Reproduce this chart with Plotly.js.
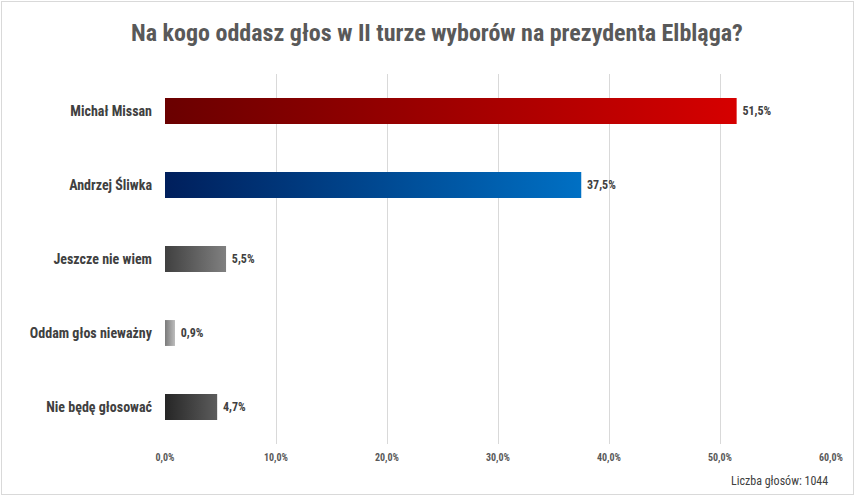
<!DOCTYPE html>
<html>
<head>
<meta charset="utf-8">
<script src="https://cdn.plot.ly/plotly-3.0.1.min.js"></script>
<style>
  html, body { margin: 0; padding: 0; background: #fff; }
  #wrap { position: relative; width: 855px; height: 496px; }
  #chart { width: 855px; height: 496px; }
  #frame { position: absolute; left: 1px; top: 1px; width: 851px; height: 492px; border: 1px solid #d9d9d9; pointer-events: none; }
</style>
</head>
<body>
<div id="wrap"><div id="chart"></div><div id="frame"></div></div>
<script>
const categories = ["Michał Missan", "Andrzej Śliwka", "Jeszcze nie wiem", "Oddam głos nieważny", "Nie będę głosować"];
const values = [51.5, 37.5, 5.5, 0.9, 4.7];
const tickValues = [0, 10, 20, 30, 40, 50, 60];
const gradientStops = [
  ["#6a0000", "#d60000"],
  ["#001f5c", "#0070c4"],
  ["#404040", "#808080"],
  ["#7a7a7a", "#bdbdbd"],
  ["#262626", "#5c5c5c"]
];
const solidColors = ["#a00000", "#004a90", "#606060", "#9a9a9a", "#404040"];
const titleText = "Na kogo oddasz głos w II turze wyborów na prezydenta Elbląga?";
const noteText = "Liczba głosów: 1044";

const FONT = "'Liberation Sans Narrow', 'Roboto Condensed', 'Arial Narrow', 'Noto Sans', sans-serif";

const trace = {
  type: "bar",
  orientation: "h",
  y: categories,
  x: values,
  marker: { color: solidColors, line: { width: 0 } },
  texttemplate: "\u00a0%{x:.1f}%",
  textposition: "outside",
  cliponaxis: false,
  textfont: { family: FONT, size: 12, color: "#404040", weight: "bold" },
  hoverinfo: "none"
};

const layout = {
  width: 855,
  height: 496,
  margin: { l: 165, r: 24, t: 74, b: 52 },
  paper_bgcolor: "#ffffff",
  plot_bgcolor: "#ffffff",
  separators: ", ",
  bargap: 0.65,
  showlegend: false,
  title: {
    text: titleText,
    font: { family: FONT, size: 24, color: "#595959", weight: "bold" },
    x: 0.511, xanchor: "center", y: 0.935, yanchor: "middle"
  },
  xaxis: {
    range: [0, 60],
    tickvals: tickValues,
    ticktext: tickValues.map(v => v.toFixed(1).replace(".", ",") + "%"),
    showgrid: true,
    gridcolor: "#d9d9d9",
    gridwidth: 1,
    zeroline: false,
    showline: false,
    ticks: "",
    ticklabelstandoff: 6,
    tickfont: { family: FONT, size: 10, color: "#595959", weight: "bold" },
    fixedrange: true
  },
  yaxis: {
    autorange: "reversed",
    showgrid: false,
    zeroline: false,
    showline: false,
    ticks: "",
    ticklabelstandoff: 12,
    tickfont: { family: FONT, size: 14, color: "#404040", weight: "bold" },
    fixedrange: true
  },
  annotations: [{
    text: noteText,
    xref: "paper", yref: "paper",
    x: 0.998, y: -0.1,
    xanchor: "right", yanchor: "middle",
    showarrow: false,
    font: { family: FONT, size: 12, color: "#404040" }
  }]
};

Plotly.newPlot("chart", [trace], layout, { staticPlot: true, displayModeBar: false }).then(gd => {
  const svg = gd.querySelector("svg.main-svg");
  const ns = "http://www.w3.org/2000/svg";
  let defs = svg.querySelector("defs");
  if (!defs) { defs = document.createElementNS(ns, "defs"); svg.insertBefore(defs, svg.firstChild); }
  gradientStops.forEach((stops, i) => {
    const g = document.createElementNS(ns, "linearGradient");
    g.setAttribute("id", "barGrad" + i);
    g.setAttribute("x1", "0"); g.setAttribute("y1", "0");
    g.setAttribute("x2", "1"); g.setAttribute("y2", "0");
    stops.forEach((c, k) => {
      const s = document.createElementNS(ns, "stop");
      s.setAttribute("offset", k === 0 ? "0" : "1");
      s.setAttribute("stop-color", c);
      g.appendChild(s);
    });
    defs.appendChild(g);
  });
  const paths = gd.querySelectorAll(".barlayer .point path");
  paths.forEach((p, i) => {
    p.style.fill = "url(#barGrad" + i + ")";
  });
});
</script>
</body>
</html>
